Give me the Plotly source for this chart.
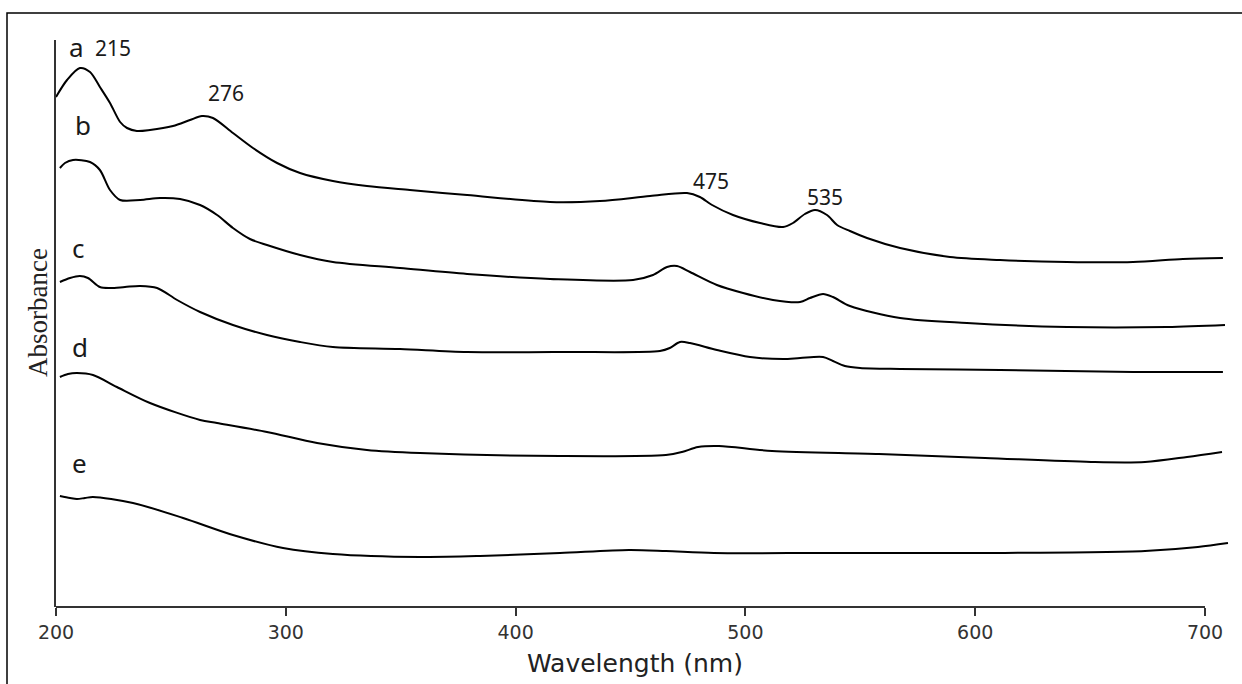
import plotly.graph_objects as go

# ---- data ----
wl_a = [200.0, 204.8, 210.4, 214.8, 219.1, 223.5, 227.9, 230.9, 235.2, 240.9, 250.9, 258.3, 263.5, 268.3,
        277.0, 285.7, 296.2, 306.2, 320.5, 335.3, 354.0, 378.9, 415.0, 436.7, 458.5, 474.6, 480.2, 485.5,
        494.6, 506.4, 516.4, 520.7, 525.9, 530.3, 535.5, 539.9, 545.5, 552.9, 567.3, 589.0, 610.8, 639.9,
        668.7, 690.4, 707.8]
abs_a = [5.10, 5.27, 5.39, 5.35, 5.20, 5.04, 4.85, 4.79, 4.76, 4.77, 4.81, 4.87, 4.91, 4.89,
         4.74, 4.59, 4.44, 4.34, 4.26, 4.21, 4.17, 4.12, 4.05, 4.06, 4.11, 4.14, 4.10, 4.02,
         3.92, 3.84, 3.80, 3.84, 3.93, 3.97, 3.92, 3.82, 3.76, 3.69, 3.59, 3.50, 3.47, 3.45,
         3.45, 3.48, 3.49]

wl_b = [201.7, 203.9, 207.4, 214.8, 219.1, 223.5, 227.9, 236.6, 245.3, 254.0, 262.7, 270.1, 277.0, 284.4,
        291.8, 306.2, 320.5, 349.7, 378.9, 415.0, 451.1, 459.8, 465.9, 470.2, 475.9, 487.6, 499.0, 512.0,
        523.8, 528.1, 533.8, 538.1, 545.5, 567.3, 596.4, 640.0, 683.5, 708.7]
abs_b = [4.39, 4.44, 4.47, 4.45, 4.37, 4.17, 4.07, 4.07, 4.09, 4.08, 4.02, 3.92, 3.79, 3.68,
         3.62, 3.52, 3.45, 3.39, 3.33, 3.28, 3.27, 3.32, 3.40, 3.41, 3.35, 3.22, 3.14, 3.07,
         3.05, 3.09, 3.13, 3.10, 3.01, 2.89, 2.84, 2.80, 2.80, 2.82]

wl_c = [201.7, 206.1, 210.4, 213.9, 219.1, 223.5, 230.0, 236.6, 244.0, 252.7, 262.7, 277.0, 291.8, 306.2,
        320.5, 349.7, 378.9, 422.4, 462.8, 467.1, 471.5, 475.9, 487.6, 502.0, 516.4, 523.8, 533.8, 538.1,
        543.3, 549.9, 567.3, 610.8, 668.7, 707.8]
abs_c = [3.25, 3.29, 3.31, 3.29, 3.20, 3.19, 3.20, 3.21, 3.19, 3.07, 2.95, 2.82, 2.72, 2.65,
         2.60, 2.58, 2.55, 2.55, 2.56, 2.59, 2.65, 2.64, 2.57, 2.50, 2.48, 2.49, 2.50, 2.46,
         2.41, 2.39, 2.38, 2.37, 2.35, 2.35]

wl_d = [201.7, 205.2, 209.1, 216.1, 226.5, 240.9, 262.7, 270.1, 291.8, 313.6, 335.3, 358.4, 419.3, 465.4,
        472.4, 479.4, 488.5, 511.6, 558.1, 604.3, 650.4, 673.9, 692.2, 707.4]
abs_d = [2.30, 2.33, 2.34, 2.32, 2.20, 2.04, 1.87, 1.84, 1.75, 1.64, 1.57, 1.54, 1.51, 1.52,
         1.55, 1.60, 1.61, 1.56, 1.53, 1.49, 1.45, 1.45, 1.50, 1.55]

wl_e = [201.7, 206.1, 209.1, 212.6, 216.1, 233.5, 255.3, 277.0, 298.8, 320.5, 358.4, 384.5, 419.3, 449.3,
        465.4, 486.3, 535.1, 604.3, 673.9, 696.9, 710.0]
abs_e = [1.11, 1.09, 1.08, 1.09, 1.10, 1.04, 0.89, 0.72, 0.59, 0.53, 0.50, 0.51, 0.54, 0.57,
         0.56, 0.54, 0.54, 0.54, 0.56, 0.60, 0.64]

series = [("a", wl_a, abs_a), ("b", wl_b, abs_b), ("c", wl_c, abs_c), ("d", wl_d, abs_d), ("e", wl_e, abs_e)]

curve_labels = ["a", "b", "c", "d", "e"]
curve_label_x = [209.1, 211.7, 209.6, 210.4, 210.4]
curve_label_y = [5.60, 4.82, 3.59, 2.60, 1.44]

peak_labels = ["215", "276", "475", "535"]
peak_label_x = [224.8, 274.0, 485.0, 534.6]
peak_label_y = [5.59, 5.14, 4.26, 4.10]

x_ticks = [200, 300, 400, 500, 600, 700]

# ---- layout geometry ----
W, H = 1242, 684
ML, MR, MT, MB = 56, 9, 40, 77
PW, PH = W - ML - MR, H - MT - MB


def px_x(px):
    return (px - ML) / PW


def px_y(py):
    return (H - MB - py) / PH


fig = go.Figure()
for name, xs, ys in series:
    fig.add_trace(go.Scatter(x=xs, y=ys, mode="lines", name=name,
                             line=dict(color="black", width=2, shape="spline", smoothing=0.85),
                             hoverinfo="skip", showlegend=False))

annotations = []
for t, x, y in zip(curve_labels, curve_label_x, curve_label_y):
    annotations.append(dict(x=x, y=y, xref="x", yref="y", text=t, showarrow=False,
                            xanchor="center", yanchor="middle",
                            font=dict(family="Noto Sans", size=26, color="#1a1a1a")))
for t, x, y in zip(peak_labels, peak_label_x, peak_label_y):
    annotations.append(dict(x=x, y=y, xref="x", yref="y", text=t, showarrow=False,
                            xanchor="center", yanchor="middle",
                            font=dict(family="Noto Sans", size=21, color="#1a1a1a")))
annotations.append(dict(x=px_x(635), y=px_y(663), xref="paper", yref="paper", text="Wavelength (nm)",
                        xanchor="center", yanchor="middle", showarrow=False,
                        font=dict(family="DejaVu Sans", size=25, color="#222")))
annotations.append(dict(x=px_x(38), y=px_y(313), xref="paper", yref="paper", text="Absorbance",
                        textangle=-90, xanchor="center", yanchor="middle", showarrow=False,
                        font=dict(family="Liberation Serif", size=27, color="#222")))

shapes = [
    dict(type="line", xref="x", yref="paper", x0=x_ticks[0], x1=x_ticks[-1], y0=0, y1=0,
         line=dict(color="#333", width=2)),
    dict(type="rect", xref="paper", yref="paper", x0=px_x(7), x1=px_x(1244), y0=px_y(13), y1=px_y(700),
         line=dict(color="black", width=1.5)),
]

fig.update_layout(
    width=W, height=H,
    margin=dict(l=ML, r=MR, t=MT, b=MB),
    paper_bgcolor="white", plot_bgcolor="white",
    annotations=annotations, shapes=shapes,
    xaxis=dict(range=[200, 200 + PW / 2.298], tickvals=x_ticks, ticktext=[str(v) for v in x_ticks],
               showgrid=False, zeroline=False, showline=False, ticks="outside", ticklen=8,
               tickwidth=2, tickcolor="#333",
               tickfont=dict(family="DejaVu Sans", size=19, color="#333")),
    yaxis=dict(range=[0, PH / 100], showgrid=False, zeroline=False, showline=True, linecolor="#333",
               linewidth=2, showticklabels=False, ticks=""),
)

fig.write_html("out.html", config={"displayModeBar": False},
               post_script="document.body.style.margin='0px';")
